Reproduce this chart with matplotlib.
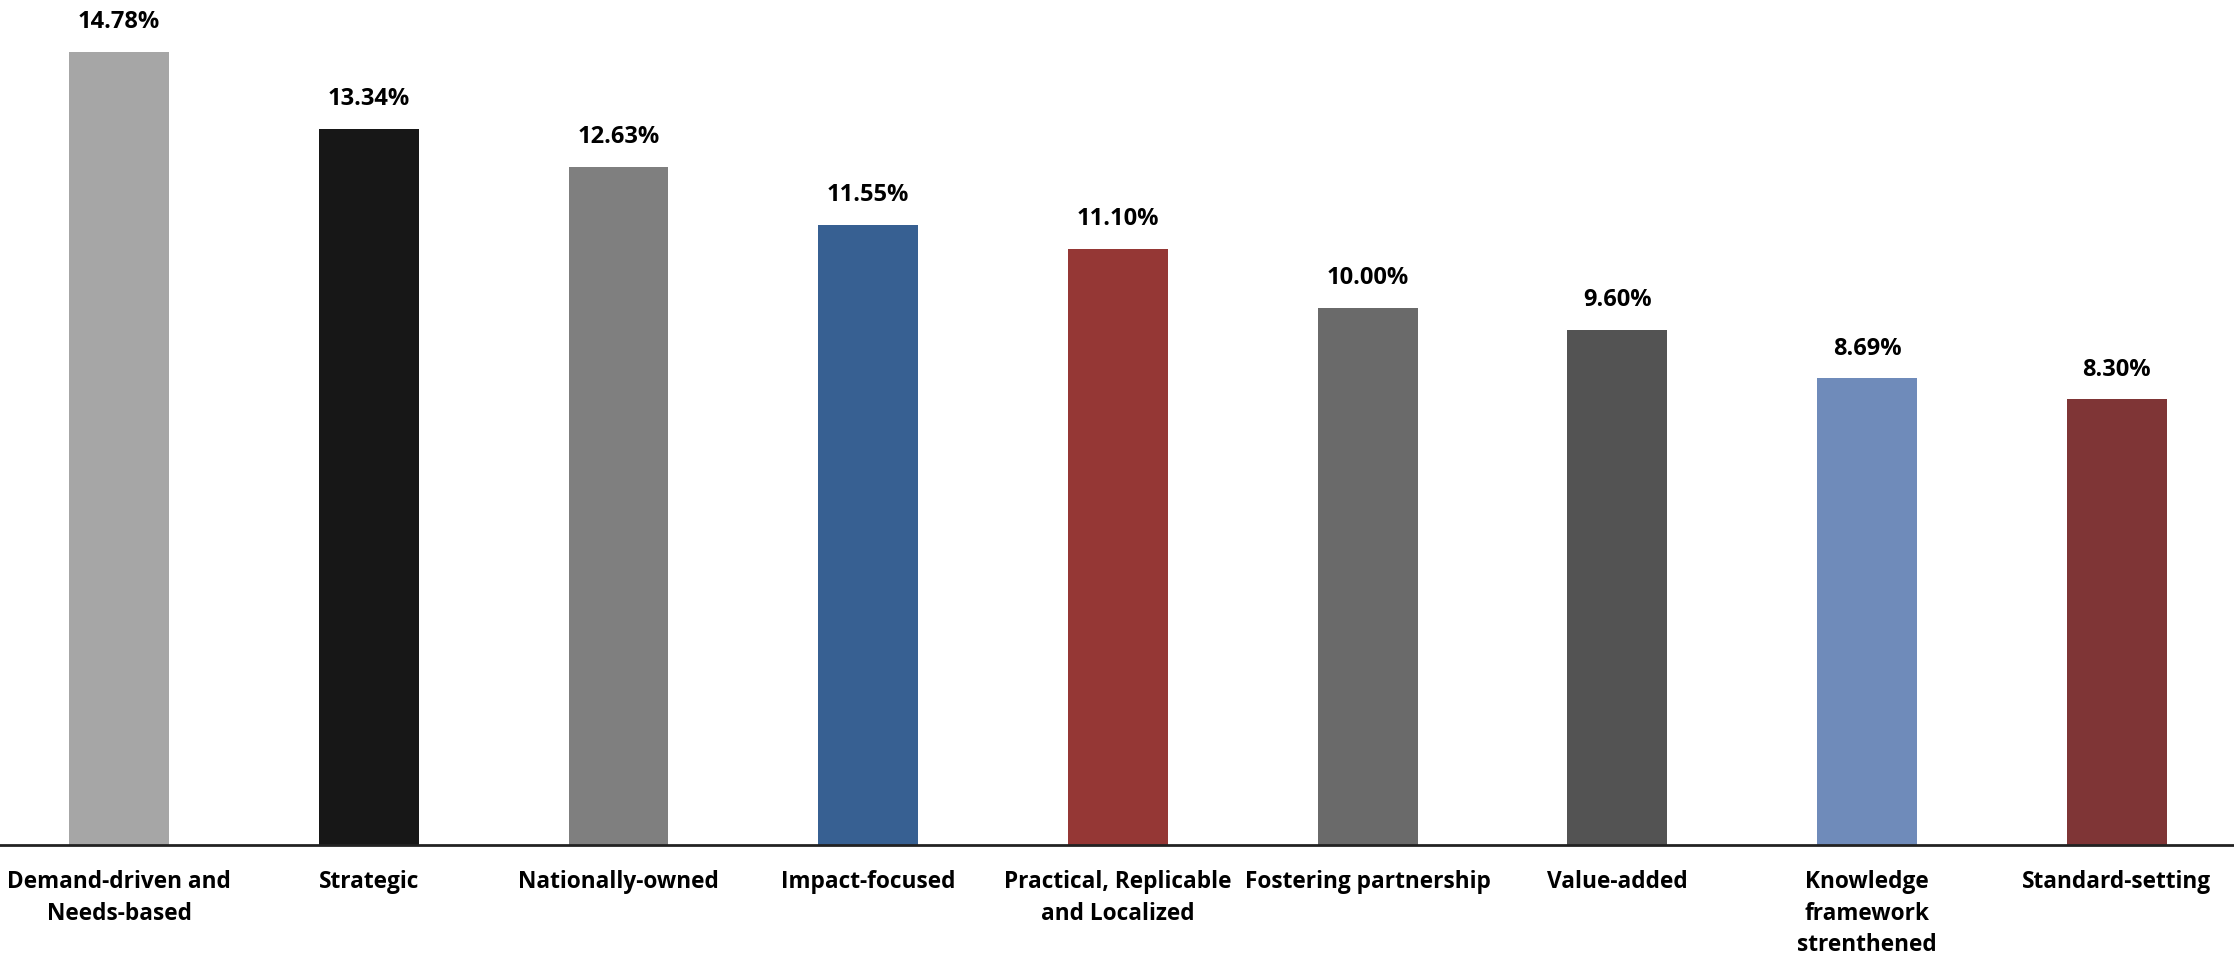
import matplotlib
matplotlib.use("Agg")
import matplotlib.pyplot as plt

# values
categories = [
    "Demand-driven and\nNeeds-based",
    "Strategic",
    "Nationally-owned",
    "Impact-focused",
    "Practical, Replicable\nand Localized",
    "Fostering partnership",
    "Value-added",
    "Knowledge\nframework\nstrenthened",
    "Standard-setting",
]
shares = [14.78, 13.34, 12.63, 11.55, 11.10, 10.00, 9.60, 8.69, 8.30]
colors = ["#A6A6A6", "#171717", "#7F7F7F", "#376092", "#953735",
          "#6A6A6A", "#535353", "#6F8BBA", "#7F3536"]

plt.rcParams['font.family'] = ['Open Sans', 'DejaVu Sans']

fig = plt.figure(figsize=(22.34, 9.55), dpi=100)
# axes fills the width, baseline at ~845 px from top
ax = fig.add_axes([0.0, 1 - 845 / 955, 1.0, 845 / 955])

x = range(len(categories))
bars = ax.bar(x, shares, width=0.40, color=colors)

for b, v in zip(bars, shares):
    ax.text(b.get_x() + b.get_width() / 2, v + 0.33, f"{v:.2f}%",
            ha="center", va="bottom", fontsize=17, fontweight="bold")

ax.set_xlim(-0.477, 8.47)
ax.set_ylim(0, 15.74)
ax.set_xticks(list(x))
ax.set_xticklabels(categories, fontsize=16.3, fontweight="bold", linespacing=1.42)
ax.tick_params(axis="x", length=0, pad=18)
ax.set_yticks([])

for side in ["top", "right", "left"]:
    ax.spines[side].set_visible(False)
ax.spines["bottom"].set_linewidth(2)
ax.spines["bottom"].set_color("#222222")

fig.savefig("out.png", dpi=100)
